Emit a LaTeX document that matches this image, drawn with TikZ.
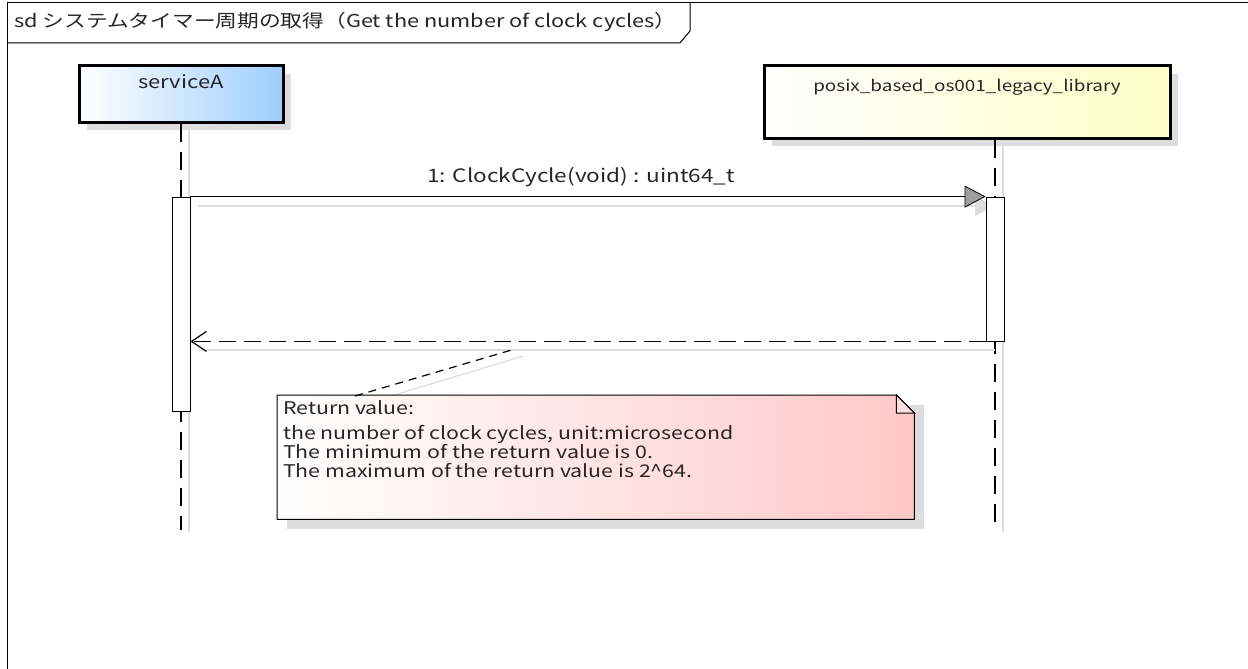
\documentclass[tikz,border=0pt]{standalone}
\usepackage{fontspec}
\setmainfont[FakeStretch=1.22]{Noto Sans CJK JP}
\usetikzlibrary{shadows,arrows.meta}
\definecolor{blueR}{HTML}{9ECEFF}
\definecolor{yellowR}{HTML}{FFFFC8}
\definecolor{pinkR}{HTML}{FFC8C8}
\definecolor{shadowC}{HTML}{DDDDDD}
\tikzset{
  every node/.style={font=\fontsize{17}{20}\selectfont, text=black!85},
  lifebox/.style={draw=black, line width=3pt, inner sep=0pt, drop shadow={shadow xshift=8pt, shadow yshift=-8pt, fill=shadowC, opacity=1}},
  actbox/.style={draw=black, line width=0.8pt, fill=white, minimum width=18pt, inner sep=0pt},
  lifeline/.style={line width=1.2pt, dash pattern=on 18pt off 10pt},
  shadowline/.style={shadowC, line width=1.2pt},
  callmsg/.style={line width=1.2pt, -{Triangle[length=21pt,width=22pt,fill=gray!75,line width=0.8pt]}},
  retmsg/.style={line width=1.2pt, dash pattern=on 17pt off 8pt, -{Straight Barb[length=15pt,width=20pt,line width=1.2pt]}},
  notelink/.style={line width=1.2pt, dash pattern=on 8pt off 6pt},
}
\begin{document}
\begin{tikzpicture}[x=1pt,y=-1pt]
\useasboundingbox (0,0) rectangle (1248,669);
\clip (0,0) rectangle (1248,669);
\fill[white] (0,0) rectangle (1248,669);
% frame
\draw[line width=1pt] (7,3) rectangle (1270,700);
\draw[line width=1pt] (7,43) -- (680,43) -- (690,31) -- (690,3);
\node[anchor=west, inner sep=0pt, font=\fontsize{17.8}{20}\selectfont] (title) at (14,22) {sd システムタイマー周期の取得（Get the number of clock cycles）};
% lifeline shadows
\draw[shadowline] (189,130) -- (189,532);
\draw[shadowline] (1003,146) -- (1003,532);
% participants
\node[lifebox, left color=white, right color=blueR, minimum width=204pt, minimum height=56pt] (sa) at (181,94) {};
\node[inner sep=0pt, font=\fontsize{18}{20}\selectfont] (salabel) at (181,82) {serviceA};
\node[lifebox, left color=white, right color=yellowR, minimum width=406pt, minimum height=72pt] (pl) at (967,102) {};
\node[inner sep=0pt, font=\fontsize{15.5}{20}\selectfont] (pllabel) at (967,87) {posix\_based\_os001\_legacy\_library};
% lifelines
\coordinate (saend) at (181,530);
\coordinate (plend) at (995,530);
\draw[lifeline] (sa.south) -- (saend);
\draw[lifeline] (pl.south -| plend) -- (plend);
% message shadows
\draw[shadowline] (198,206) -- (995,206);
\fill[shadowC] (994,206) -- (975,196) -- (975,216) -- cycle;
\draw[shadowline] (198,350) -- (995,350);
\draw[shadowline] (523,356) -- (365,404);
% activations
\node[actbox, minimum height=214pt] (sact) at (181,304) {};
\node[actbox, minimum height=144pt] (pact) at (995,269) {};
% messages
\draw[callmsg] (sact.north east) -- (pact.north west);
\node[inner sep=0pt, font=\fontsize{18.5}{20}\selectfont] (m1label) at (581,177) {1: ClockCycle(void) : uint64\_t};
\draw[retmsg] (pact.south west) -- (pact.south west -| sact.east);
% note
\node[anchor=north west, inner sep=0pt, minimum width=637pt, minimum height=124pt] (note) at (277,395) {};
\fill[shadowC] ([xshift=10pt,yshift=-10pt]note.north east) rectangle ([xshift=10pt,yshift=-10pt]note.south west);
\draw[line width=1pt, left color=white, right color=pinkR] (note.north west) -- ([xshift=-18pt]note.north east) -- ([yshift=-18pt]note.north east) -- (note.south east) -- (note.south west) -- cycle;
\draw[line width=1pt, fill=pinkR!60] ([xshift=-18pt]note.north east) -- ([xshift=-18pt,yshift=-18pt]note.north east) -- ([yshift=-18pt]note.north east) -- cycle;
\node[anchor=north west, align=left, inner sep=0pt, font=\fontsize{17.5}{19}\selectfont] (notetext) at (283,400) {Return value:\\[6pt]the number of clock cycles, unit:microsecond\\The minimum of the return value is 0.\\The maximum of the return value is 2\^{}64.};
\coordinate (linkend) at (515,349);
\draw[notelink] (355,396) -- (linkend);
\end{tikzpicture}
\end{document}
